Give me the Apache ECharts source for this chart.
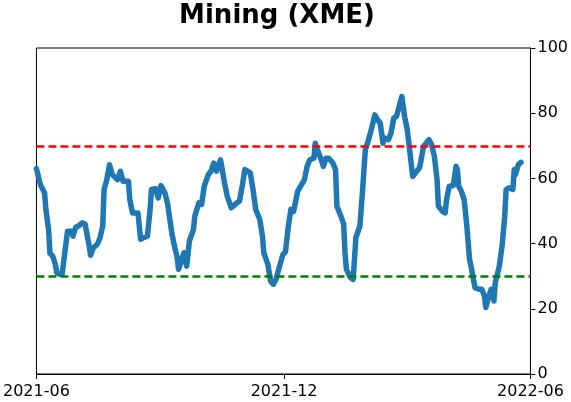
<!DOCTYPE html>
<html>
<head>
<meta charset="utf-8">
<script src="https://cdn.jsdelivr.net/npm/echarts@6/dist/echarts.min.js"></script>
<style>
html,body{margin:0;padding:0;background:#fff;}
#c{width:571px;height:402px;}
</style>
</head>
<body>
<div id="c"></div>
<script>
var title = "Mining (XME)";
var xTickLabels = ["2021-06-01", "2021-12-01", "2022-06-01"];
var yTicks = [0, 20, 40, 60, 80, 100];
var upperLevel = 70;
var lowerLevel = 30;
var dates = [
"2021-06-01","2021-06-04","2021-06-07","2021-06-08","2021-06-10","2021-06-11","2021-06-13","2021-06-15","2021-06-16","2021-06-18",
"2021-06-20","2021-06-22","2021-06-24","2021-06-27","2021-06-28","2021-06-30","2021-07-02","2021-07-05","2021-07-07","2021-07-10",
"2021-07-11","2021-07-13","2021-07-16","2021-07-18","2021-07-20","2021-07-21","2021-07-23","2021-07-25","2021-07-27","2021-07-31",
"2021-08-02","2021-08-04","2021-08-08","2021-08-09","2021-08-11","2021-08-12","2021-08-15","2021-08-17","2021-08-19","2021-08-22",
"2021-08-24","2021-08-25","2021-08-28","2021-08-30","2021-09-01","2021-09-04","2021-09-06","2021-09-09","2021-09-11","2021-09-13",
"2021-09-14","2021-09-16","2021-09-18","2021-09-20","2021-09-22","2021-09-25","2021-09-26","2021-09-29","2021-10-01","2021-10-03",
"2021-10-06","2021-10-08","2021-10-10","2021-10-12","2021-10-15","2021-10-16","2021-10-18","2021-10-20","2021-10-23","2021-10-24",
"2021-10-27","2021-10-29","2021-10-31","2021-11-02","2021-11-04","2021-11-06","2021-11-08","2021-11-10","2021-11-13","2021-11-15",
"2021-11-16","2021-11-19","2021-11-21","2021-11-23","2021-11-25","2021-11-27","2021-11-30","2021-12-02","2021-12-04","2021-12-06",
"2021-12-08","2021-12-11","2021-12-16","2021-12-18","2021-12-20","2021-12-23","2021-12-24","2021-12-26","2021-12-28","2021-12-30",
"2022-01-01","2022-01-03","2022-01-06","2022-01-08","2022-01-09","2022-01-12","2022-01-14","2022-01-15","2022-01-16","2022-01-19",
"2022-01-21","2022-01-22","2022-01-23","2022-01-26","2022-01-28","2022-01-30","2022-02-01","2022-02-04","2022-02-06","2022-02-08",
"2022-02-10","2022-02-12","2022-02-13","2022-02-16","2022-02-18","2022-02-20","2022-02-22","2022-02-23","2022-02-26","2022-02-28",
"2022-03-02","2022-03-04","2022-03-06","2022-03-08","2022-03-11","2022-03-12","2022-03-14","2022-03-18","2022-03-20","2022-03-22",
"2022-03-24","2022-03-25","2022-03-28","2022-03-30","2022-03-31","2022-04-02","2022-04-05","2022-04-07","2022-04-08","2022-04-09",
"2022-04-11","2022-04-13","2022-04-15","2022-04-17","2022-04-19","2022-04-21","2022-04-24","2022-04-26","2022-04-28","2022-04-29",
"2022-05-01","2022-05-03","2022-05-05","2022-05-06","2022-05-09","2022-05-11","2022-05-13","2022-05-14","2022-05-16","2022-05-19",
"2022-05-20","2022-05-21","2022-05-23","2022-05-25"
];
var values = [
63,58,55.6,50.5,44.3,37,36.2,33.6,31.1,30.6,
30.6,37.3,43.8,43.8,42.3,45,45.4,46.4,45.9,39.2,
36.4,38.7,39.8,41.8,45.4,56.6,59.6,64.2,61.2,59.6,
62.2,59.1,59.1,53.5,49.4,49.9,49.4,41.3,41.8,42.3,
50.5,56.6,56.8,54,57.8,55.5,52,43.3,39.2,35.7,
32.1,34.7,37.2,33.1,40.8,44.3,48.4,52.5,52,57.6,
61.2,62.2,64.7,62.2,65.7,65.2,58.6,54.5,51,50.5,
52.5,53,57.6,62.7,62.2,61.7,56.6,50.5,47.4,42.3,
37.2,33.6,28.5,27.5,29,32.1,36.5,37.5,44.9,50.5,
49.9,56,59.6,63.7,65.7,66.2,70.8,68.3,66.2,63.7,
66.2,66.2,64.7,62.7,51.5,48.4,45.9,37.2,32.1,29.6,
29,35.2,41.8,45.4,56.6,68.8,71.3,75.9,79.5,78,
77,70.8,72.4,71.9,73.9,78.5,79,80.5,85.1,79,
74.9,67.8,60.6,61.7,63.2,65.2,69.8,71.9,70.3,66.8,
59.6,51.5,49.9,49.4,53.5,57.6,57.8,63.7,62.7,57.6,
56,53.5,45.4,35.2,31.1,26.5,26,26,23.9,20.4,
23.5,26,22.4,28,33.1,39.2,48.4,56.6,57.1,56.6,
62.7,61.2,64.2,64.9
];

function toTime(s) { return Date.UTC(+s.slice(0, 4), +s.slice(5, 7) - 1, +s.slice(8, 10)); }
var seriesData = dates.map(function (d, i) { return [toTime(d), values[i]]; });
var xTickTimes = xTickLabels.map(toTime);
var font = "DejaVu Sans";
var chart = echarts.init(document.getElementById('c'), null, {renderer: 'canvas'});
chart.setOption({
  animation: false,
  backgroundColor: '#ffffff',
  title: {
    text: title,
    left: 272,
    top: -2,
    textAlign: 'center',
    textStyle: {fontFamily: font, fontWeight: 'bold', fontSize: 26, color: '#000'}
  },
  grid: {
    left: 35, right: 40, top: 48, bottom: 28,
    show: true, borderColor: '#000', borderWidth: 1, backgroundColor: 'transparent'
  },
  xAxis: {
    type: 'value',
    min: xTickTimes[0],
    max: xTickTimes[xTickTimes.length - 1],
    splitLine: {show: false},
    axisLine: {show: true, onZero: false, lineStyle: {color: '#000', width: 1}},
    axisTick: {show: true, length: 5, lineStyle: {color: '#000'}, customValues: xTickTimes},
    axisLabel: {
      show: true, margin: 10, color: '#000', fontFamily: font, fontSize: 16,
      customValues: xTickTimes,
      showMinLabel: true, showMaxLabel: true,
      formatter: function (v) { var d = new Date(v); var m = d.getUTCMonth() + 1; return d.getUTCFullYear() + '-' + (m < 10 ? '0' + m : m); }
    }
  },
  yAxis: {
    type: 'value',
    position: 'right',
    min: yTicks[0],
    max: yTicks[yTicks.length - 1],
    interval: 20,
    splitLine: {show: false},
    axisLine: {show: true, lineStyle: {color: '#000', width: 1}},
    axisTick: {show: true, length: 5, lineStyle: {color: '#000'}},
    axisLabel: {color: '#000', fontFamily: font, fontSize: 16, margin: 7}
  },
  series: [{
    type: 'line',
    data: seriesData,
    showSymbol: false,
    symbol: 'none',
    lineStyle: {color: '#1f77b4', width: 5.5, join: 'round', cap: 'round'},
    z: 3,
    markLine: {
      silent: true,
      symbol: ['none', 'none'],
      label: {show: false},
      animation: false,
      data: [
        {yAxis: upperLevel, lineStyle: {color: '#ff0000', type: [8, 4], width: 2.5}},
        {yAxis: lowerLevel, lineStyle: {color: '#008000', type: [8, 4], width: 2.5}}
      ]
    }
  }]
});
</script>
</body>
</html>
